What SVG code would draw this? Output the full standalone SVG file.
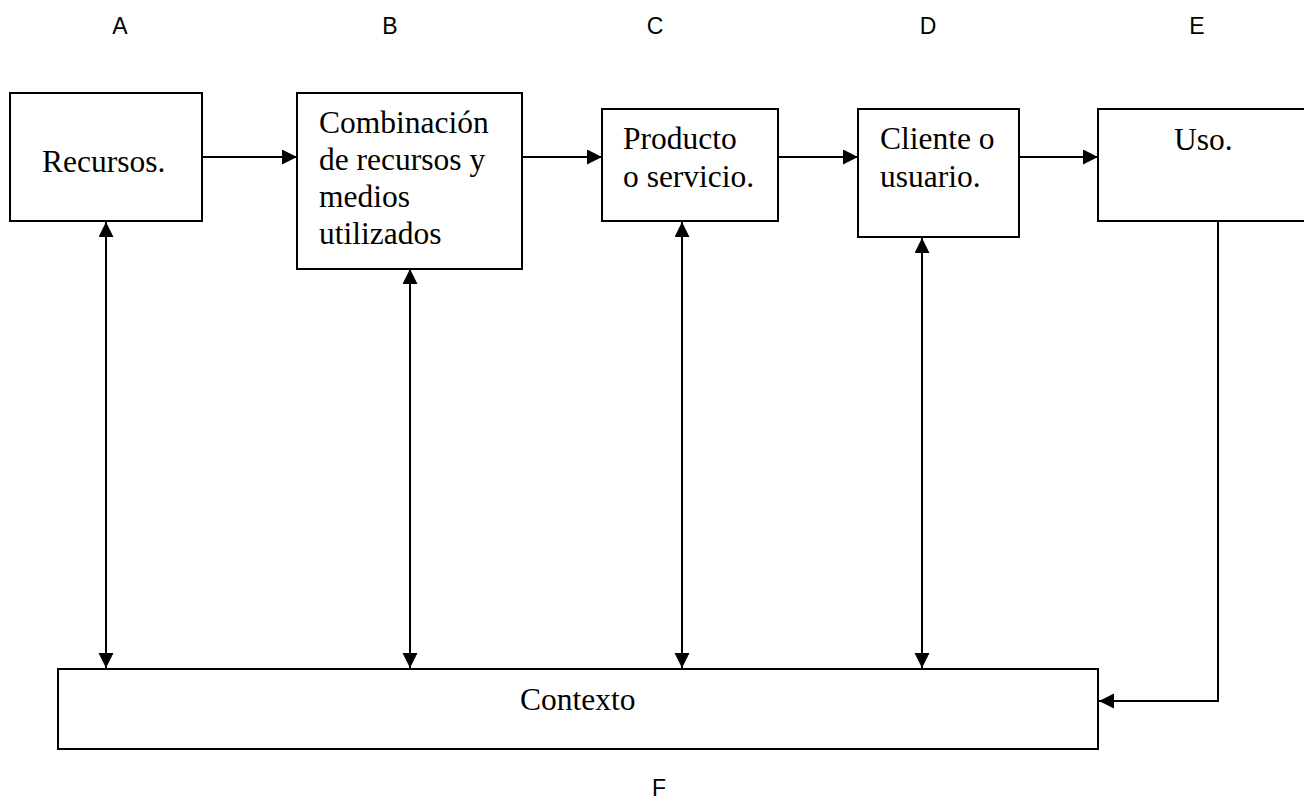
<svg xmlns="http://www.w3.org/2000/svg" width="1304" height="802" viewBox="0 0 1304 802">
  <style>
    .box { fill: #ffffff; stroke: #000000; stroke-width: 2; }
    .lbl { font-family: "Liberation Serif", "Times New Roman", serif; font-size: 31.5px; fill: #000000; }
    .col { font-family: "Liberation Sans", Arial, sans-serif; font-size: 23px; fill: #000000; text-anchor: middle; }
    .conn { fill: none; stroke: #000000; stroke-width: 2; }
  </style>
  <defs>
    <marker id="arr" markerUnits="userSpaceOnUse" markerWidth="16" markerHeight="16" viewBox="0 0 16 16" refX="15" refY="7.5" orient="auto-start-reverse">
      <path d="M0,0 L15,7.5 L0,15 z" fill="#000000"/>
    </marker>
  </defs>
  <rect width="1304" height="802" fill="#ffffff"/>

  <g id="column-labels">
    <text class="col" x="120" y="34">A</text>
    <text class="col" x="390" y="34">B</text>
    <text class="col" x="655" y="34">C</text>
    <text class="col" x="928" y="34">D</text>
    <text class="col" x="1197" y="34">E</text>
    <text class="col" x="659" y="796">F</text>
  </g>

  <g id="connectors">
    <line class="conn" x1="202" y1="157" x2="297" y2="157" marker-end="url(#arr)"/>
    <line class="conn" x1="522" y1="157" x2="602" y2="157" marker-end="url(#arr)"/>
    <line class="conn" x1="778" y1="157" x2="858" y2="157" marker-end="url(#arr)"/>
    <line class="conn" x1="1019" y1="157" x2="1098" y2="157" marker-end="url(#arr)"/>
    <line class="conn" x1="106" y1="222" x2="106" y2="668" marker-start="url(#arr)" marker-end="url(#arr)"/>
    <line class="conn" x1="410" y1="269" x2="410" y2="668" marker-start="url(#arr)" marker-end="url(#arr)"/>
    <line class="conn" x1="682" y1="222" x2="682" y2="668" marker-start="url(#arr)" marker-end="url(#arr)"/>
    <line class="conn" x1="922" y1="238" x2="922" y2="668" marker-start="url(#arr)" marker-end="url(#arr)"/>
    <polyline class="conn" points="1218,221 1218,701 1099,701" marker-end="url(#arr)"/>
  </g>

  <g id="recursos">
    <rect class="box" x="10" y="93" width="192" height="128"/>
    <text class="lbl" x="42" y="172">Recursos.</text>
  </g>

  <g id="combinacion">
    <rect class="box" x="297" y="93" width="225" height="176"/>
    <text class="lbl" x="319" y="133">Combinación</text>
    <text class="lbl" x="319" y="170">de recursos y</text>
    <text class="lbl" x="319" y="207">medios</text>
    <text class="lbl" x="319" y="244">utilizados</text>
  </g>

  <g id="producto">
    <rect class="box" x="602" y="109" width="176" height="112"/>
    <text class="lbl" x="623" y="149">Producto</text>
    <text class="lbl" x="623" y="187">o servicio.</text>
  </g>

  <g id="cliente">
    <rect class="box" x="858" y="109" width="161" height="128"/>
    <text class="lbl" x="880" y="149">Cliente o</text>
    <text class="lbl" x="880" y="187">usuario.</text>
  </g>

  <g id="uso">
    <rect class="box" x="1098" y="109" width="220" height="112"/>
    <text class="lbl" x="1174" y="150">Uso.</text>
  </g>

  <g id="contexto">
    <rect class="box" x="58" y="669" width="1040" height="80"/>
    <text class="lbl" x="520" y="710">Contexto</text>
  </g>
</svg>
